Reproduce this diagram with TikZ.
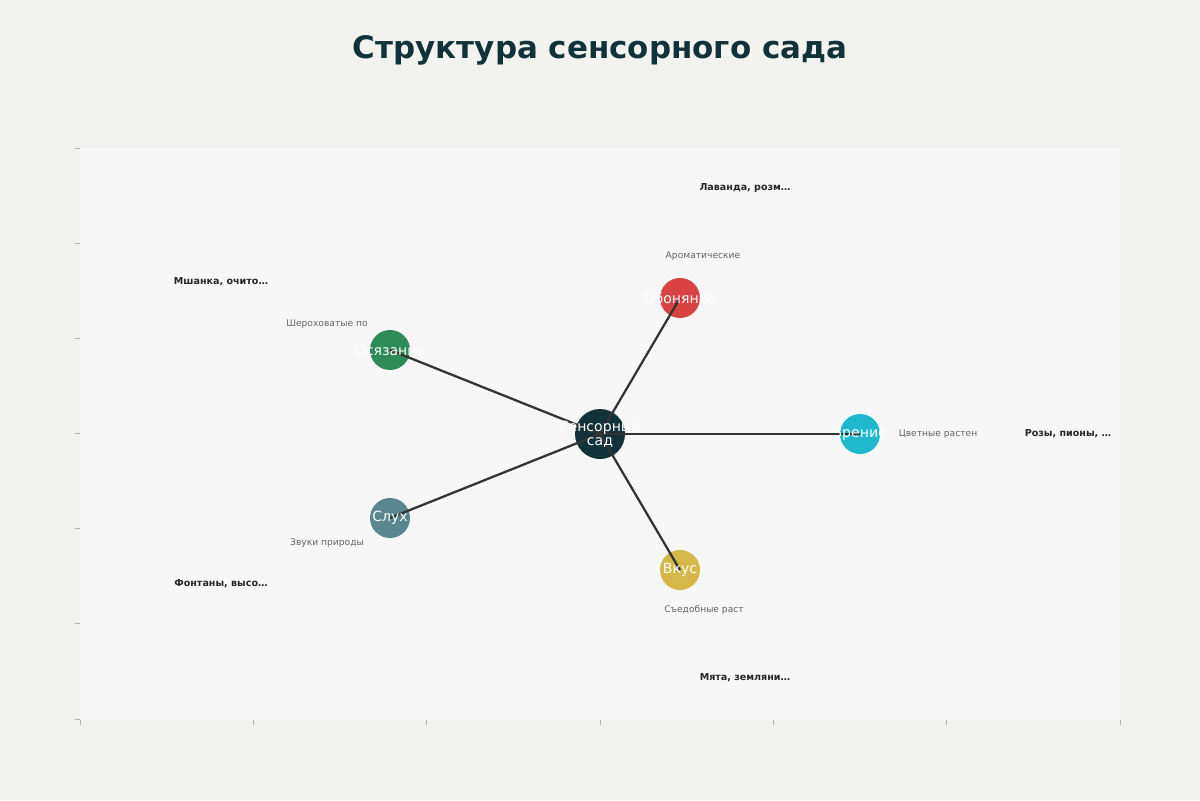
\documentclass[tikz,border=0pt]{standalone}
\usepackage{fontspec}
\setmainfont{DejaVu Sans}
\begin{document}
\begin{tikzpicture}[x=0.025cm,y=-0.025cm,
  sense/.style={circle,minimum size=1cm,inner sep=0pt,text=white,font=\fontsize{10}{12}\selectfont},
  edge/.style={draw=black!80,line width=1.6pt},
  small/.style={text=black!60,font=\fontsize{6.5}{8}\selectfont},
  ex/.style={text=black!85,font=\bfseries\fontsize{6.8}{8}\selectfont},
  tick/.style={draw=black!30,line width=0.5pt}]
\definecolor{bgc}{HTML}{F2F2EE}
\definecolor{plotc}{HTML}{F7F7F7}
\definecolor{dark}{HTML}{12323A}
\definecolor{cred}{HTML}{D94343}
\definecolor{cgreen}{HTML}{2E8B57}
\definecolor{ccyan}{HTML}{1FB8CC}
\definecolor{cslate}{HTML}{5A8690}
\definecolor{cgold}{HTML}{D4B84A}
\fill[bgc] (0,0) rectangle (1200,800);
\fill[plotc] (80,148) rectangle (1120,720);
\foreach \y in {148,243.2,338.3,433.5,528.7,623.8,719} \draw[tick] (75,\y) -- (80,\y);
\foreach \x in {80,253.3,426.7,600,773.3,946.7,1120} \draw[tick] (\x,720) -- (\x,725);
\node (title) at (600,50) {\bfseries\fontsize{22}{26}\selectfont\color{dark}Структура сенсорного сада};
\fill[dark] (600,434) circle (25);
\fill[cred] (680,298) circle (20);
\fill[cgreen] (390,350) circle (20);
\fill[ccyan] (860,434) circle (20);
\fill[cslate] (390,518) circle (20);
\fill[cgold] (680,570) circle (20);
\coordinate (c) at (600,434);
\coordinate (o) at (680,298);
\coordinate (t) at (390,350);
\coordinate (z) at (860,434);
\coordinate (s) at (390,518);
\coordinate (v) at (680,570);
\foreach \n in {o,t,z,s,v} \draw[edge] (c) -- (\n);
\node[sense,align=center] (cl) at (c) {Сенсорный\\[-2pt]сад};
\node[sense] (ol) at (o) {Обоняние};
\node[sense] (tl) at (t) {Осязание};
\node[sense] (zl) at (z) {Зрение};
\node[sense] (sl) at (s) {Слух};
\node[sense] (vl) at (v) {Вкус};
\node[small] (a1) at (703,256) {Ароматические};
\node[ex] (a2) at (745,188) {Лаванда, розм…};
\node[small] (b1) at (327,324) {Шероховатые по};
\node[ex] (b2) at (221,282) {Мшанка, очито…};
\node[small] (c1) at (938,434) {Цветные растен};
\node[ex] (c2) at (1068,434) {Розы, пионы, …};
\node[small] (d1) at (327,543) {Звуки природы};
\node[ex] (d2) at (221,584) {Фонтаны, высо…};
\node[small] (e1) at (704,610) {Съедобные раст};
\node[ex] (e2) at (745,678) {Мята, земляни…};
\end{tikzpicture}
\end{document}
